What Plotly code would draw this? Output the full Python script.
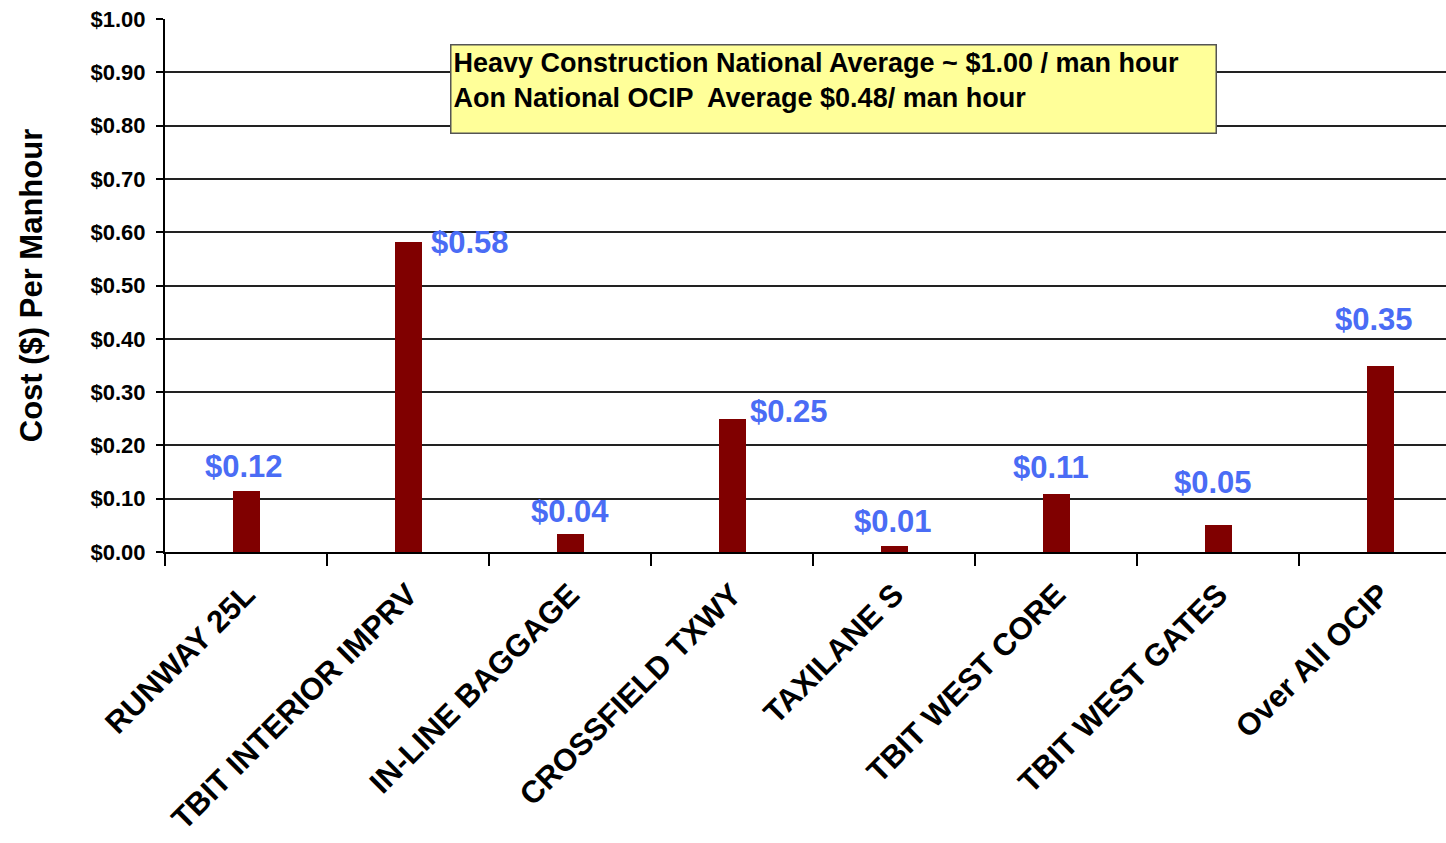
import plotly.graph_objects as go

categories = ["RUNWAY 25L", "TBIT INTERIOR IMPRV", "IN-LINE BAGGAGE", "CROSSFIELD TXWY",
              "TAXILANE S", "TBIT WEST CORE", "TBIT WEST GATES", "Over All OCIP"]
values = [0.114, 0.581, 0.034, 0.249, 0.011, 0.108, 0.050, 0.349]
value_labels = ["$0.12", "$0.58", "$0.04", "$0.25", "$0.01", "$0.11", "$0.05", "$0.35"]
# label offsets (pixels) relative to the top of each bar
label_dx = [-2, 62, 0, 57, -1, -5, -5, -7]
label_dy = [25, 0, 22, 8, 25, 27, 43, 46]
y_ticks = [0.0, 0.1, 0.2, 0.3, 0.4, 0.5, 0.6, 0.7, 0.8, 0.9, 1.0]
note_lines = ["Heavy Construction National Average ~ $1.00 / man hour",
              "Aon National OCIP  Average $0.48/ man hour"]

FONT = "Liberation Sans, Arial, sans-serif"

fig = go.Figure()
fig.add_trace(go.Bar(
    x=categories, y=values, width=0.167,
    marker=dict(color="#800000", line=dict(width=0)),
    hoverinfo="skip", showlegend=False,
))

for i, (c, v, t) in enumerate(zip(categories, values, value_labels)):
    fig.add_annotation(
        x=c, y=v, xref="x", yref="y", text=t, showarrow=False,
        xanchor="center", yanchor="middle",
        xshift=label_dx[i], yshift=label_dy[i],
        font=dict(family=FONT, size=31, color="#4a6cf5", weight="bold"),
    )

fig.add_annotation(
    x=1.256, y=0.953, xref="x", yref="y", xanchor="left", yanchor="top",
    text="<br>".join(note_lines), showarrow=False, align="left", valign="top",
    width=760, height=83, borderpad=2,
    bgcolor="#ffff99", bordercolor="#555555", borderwidth=1.5,
    font=dict(family=FONT, size=27, color="black", weight="bold"),
)

fig.update_layout(
    width=1446, height=843,
    margin=dict(l=165, r=0, t=19, b=291, pad=0),
    paper_bgcolor="white", plot_bgcolor="white",
    bargap=0,
    font=dict(family=FONT, color="black"),
    xaxis=dict(
        type="category", range=[-0.5, 7.404], automargin=False,
        tickangle=-45, tickson="boundaries", ticks="outside", ticklen=12,
        tickwidth=2, tickcolor="black", showline=True, linecolor="black", linewidth=2,
        showgrid=False, zeroline=False, ticklabelstandoff=10,
        tickfont=dict(family=FONT, size=31, color="black", weight="bold"),
    ),
    yaxis=dict(
        range=[0, 1.0], tickmode="array", tickvals=y_ticks, tickformat="$.2f",
        automargin=False,
        ticks="outside", ticklen=7, tickwidth=2, tickcolor="black",
        showline=True, linecolor="black", linewidth=2,
        showgrid=True, gridcolor="#222222", gridwidth=1.5, zeroline=False,
        ticklabelstandoff=6,
        tickfont=dict(family=FONT, size=22, color="black", weight="bold"),
        title=dict(text="Cost ($) Per Manhour", standoff=39,
                   font=dict(family=FONT, size=31, color="black", weight="bold")),
    ),
)

fig.write_html("out.html", config={"displayModeBar": False},
               post_script="document.body.style.margin='0';")
